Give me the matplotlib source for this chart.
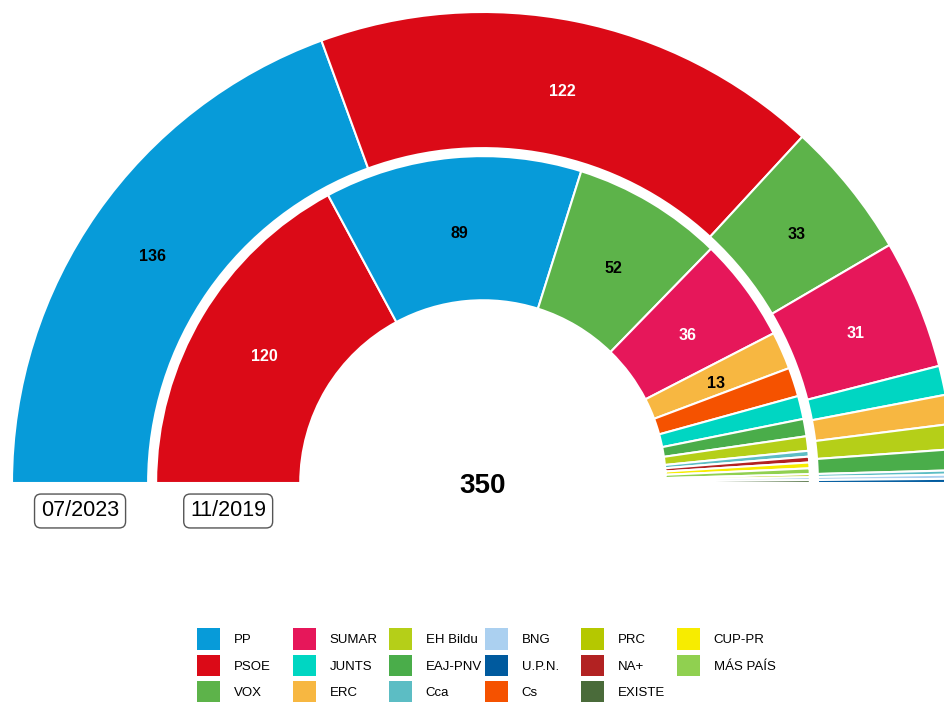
import numpy as np
import matplotlib.pyplot as plt
from matplotlib.patches import Patch


# Definitions/Config

plt.rcParams["font.family"] = ["Liberation Sans", "DejaVu Sans"]


# Data

Parties = ["PP", "PSOE", "VOX", "SUMAR", "JUNTS", "ERC", "EH Bildu", "EAJ-PNV",
           "Cca", "BNG", "U.P.N.", "Cs", "PRC", "NA+", "EXISTE", "CUP-PR", "MÁS PAÍS"]

Colors = ["#079bd9", "#db0a17", "#5db34a", "#e6175a", "#00d6c2", "#f7b741", "#b5cf18", "#4aad4a",
          "#5cbdc4", "#abd0f0", "#005a9e", "#f55200", "#b5c800", "#b22222", "#4a6b3a", "#f7ec00", "#90d050"]

Outer_Label = "07/2023"
Outer_Parties = ["PP", "PSOE", "VOX", "SUMAR", "JUNTS", "ERC", "EH Bildu", "EAJ-PNV", "Cca", "BNG", "U.P.N."]
Outer_Seats = [136, 122, 33, 31, 7, 7, 6, 5, 1, 1, 1]

Inner_Label = "11/2019"
Inner_Parties = ["PSOE", "PP", "VOX", "SUMAR", "ERC", "Cs", "JUNTS", "EAJ-PNV", "EH Bildu",
                 "Cca", "NA+", "CUP-PR", "MÁS PAÍS", "PRC", "BNG", "EXISTE"]
Inner_Seats = [120, 89, 52, 36, 13, 10, 8, 6, 5, 2, 2, 2, 2, 1, 1, 1]

Total_Seats = 350

Color_Map = dict(zip(Parties, Colors))
White_Text = ["PSOE", "SUMAR"]


# Plotting

W, H = 945, 702
CX, CY, R = 483, 219, 471
Px = 1 / R   # one pixel in data units

fig = plt.figure(figsize=(W / 100, H / 100), dpi=100)
ax = fig.add_axes([0, 0, 1, 1])

Rings = [(Outer_Parties, Outer_Seats, 1.0, 0.289, Outer_Label),
         (Inner_Parties, Inner_Seats, 0.694, 0.306, Inner_Label)]

for Names, Seats, Radius, Width, Label in Rings:
    Values = Seats + [sum(Seats)]
    Cols = [Color_Map[n] for n in Names] + ["none"]
    Wedges, _ = ax.pie(Values, colors=Cols, radius=Radius, startangle=180, counterclock=False,
                       wedgeprops=dict(width=Width, edgecolor="white", linewidth=1.5))
    Wedges[-1].set_visible(False)

    Mid_R = Radius - Width / 2
    for W_, Name, Val in zip(Wedges[:-1], Names, Seats):
        if Val < 12:
            continue
        Ang = np.deg2rad((W_.theta1 + W_.theta2) / 2)
        ax.text(Mid_R * np.cos(Ang), Mid_R * np.sin(Ang) - 4 * Px, str(Val), ha="center", va="center",
                fontsize=11.5, fontweight="bold",
                color="white" if Name in White_Text else "black")

    ax.text(-Mid_R, -28 * Px, Label, ha="center", va="center", fontsize=15.5,
            bbox=dict(boxstyle="round,pad=0.3,rounding_size=0.3", facecolor="white",
                      edgecolor="#555555", linewidth=1))

ax.text(0, -3 * Px, str(Total_Seats), ha="center", va="center", fontsize=20, fontweight="bold")

# pie() resets the limits, so set them afterwards
ax.set_xlim(-CX / R, (W - CX) / R)
ax.set_ylim(-CY / R, (H - CY) / R)
ax.set_aspect("equal")
ax.axis("off")


# Legend (one column at a time, fixed column pitch)

Rows = 3
for c in range(int(np.ceil(len(Parties) / Rows))):
    Items = Parties[c * Rows:(c + 1) * Rows]
    Handles = [Patch(facecolor=Color_Map[p], edgecolor="none") for p in Items]
    fig.legend(Handles, Items, loc="upper left",
               bbox_to_anchor=((197 + 96 * c) / W, 1 - 628 / H),
               frameon=False, fontsize=9.5, handlelength=1.72, handleheight=2.15,
               handletextpad=1.05, labelspacing=0.38, borderpad=0, borderaxespad=0)

fig.savefig("out.png", dpi=100)
